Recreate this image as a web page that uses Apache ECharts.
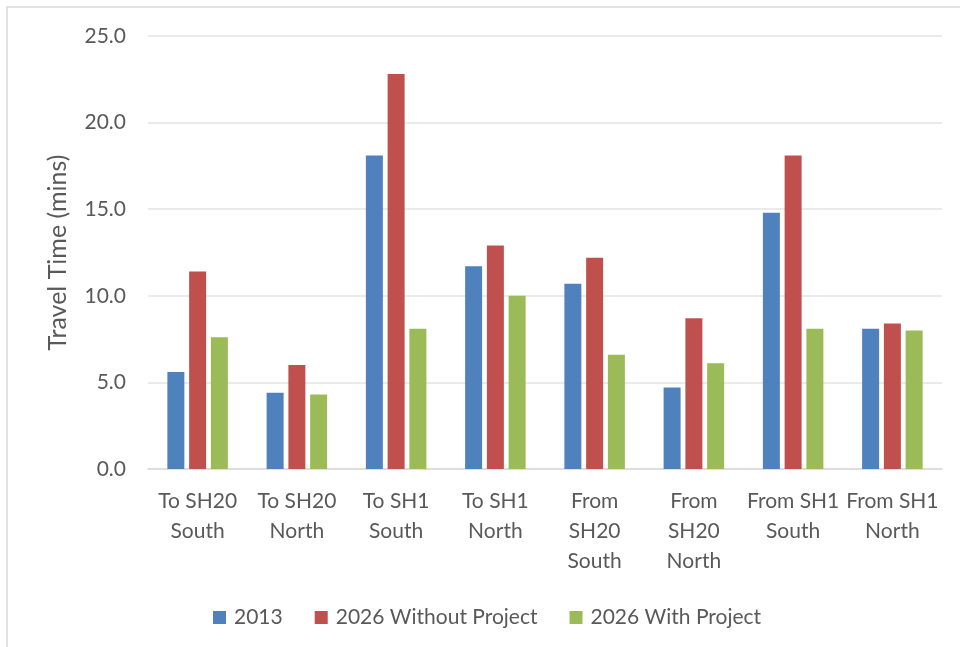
<!DOCTYPE html>
<html>
<head>
<meta charset="utf-8">
<script src="https://cdn.jsdelivr.net/npm/echarts@6/dist/echarts.min.js"></script>
<style>
  html, body { margin: 0; padding: 0; background: #fff; }
  #chart { width: 960px; height: 647px; }
</style>
</head>
<body>
<div id="chart"></div>
<script>
// Route categories (line breaks as shown under the axis)
const categories = [
  'To SH20\nSouth', 'To SH20\nNorth', 'To SH1\nSouth', 'To SH1\nNorth',
  'From\nSH20\nSouth', 'From\nSH20\nNorth', 'From SH1\nSouth', 'From SH1\nNorth'
];

// Travel times in minutes
const values2013 = [5.6, 4.4, 18.1, 11.7, 10.7, 4.7, 14.8, 8.1];
const values2026Without = [11.4, 6.0, 22.8, 12.9, 12.2, 8.7, 18.1, 8.4];
const values2026With = [7.6, 4.3, 8.1, 10.0, 6.6, 6.1, 8.1, 8.0];

const seriesNames = ['2013', '2026 Without Project', '2026 With Project'];
const yTicks = { min: 0, max: 25, interval: 5 };

const FONT = 'Lato, "Open Sans", sans-serif';
const TEXT = '#595959';

const chart = echarts.init(document.getElementById('chart'), null, { renderer: 'canvas' });

const barStyle = (color) => ({
  type: 'bar',
  barWidth: 17,
  barGap: '28%',
  itemStyle: { color: color }
});

chart.setOption({
  animation: false,
  textStyle: { fontFamily: FONT },
  graphic: [{
    type: 'rect',
    shape: { x: 7, y: 7, width: 1000, height: 700 },
    style: { fill: 'none', stroke: '#d9d9d9', lineWidth: 1.5 },
    silent: true
  }],
  legend: {
    data: seriesNames,
    left: 208,
    top: 602,
    itemWidth: 13,
    itemHeight: 13,
    itemGap: 32,
    icon: 'rect',
    textStyle: {
      fontFamily: FONT, fontSize: 21, color: TEXT,
      padding: [0, 0, 0, 3]
    }
  },
  grid: { left: 148, right: 18, top: 36, bottom: 178 },
  xAxis: {
    type: 'category',
    data: categories,
    axisLine: { show: true, lineStyle: { color: '#d9d9d9', width: 1.5 } },
    axisTick: { show: false },
    axisLabel: {
      interval: 0,
      margin: 17,
      fontFamily: FONT,
      fontSize: 21,
      lineHeight: 30,
      color: TEXT
    }
  },
  yAxis: {
    type: 'value',
    min: yTicks.min,
    max: yTicks.max,
    interval: yTicks.interval,
    name: 'Travel Time (mins)',
    nameLocation: 'middle',
    nameGap: 78,
    nameTextStyle: { fontFamily: FONT, fontSize: 25, color: TEXT },
    axisLine: { show: false },
    axisTick: { show: false },
    axisLabel: {
      margin: 22,
      fontFamily: FONT,
      fontSize: 21,
      color: TEXT,
      formatter: (v) => v.toFixed(1)
    },
    splitLine: { lineStyle: { color: '#e3e3e3', width: 1.5 } }
  },
  series: [
    Object.assign(barStyle('#4F81BD'), { name: seriesNames[0], data: values2013 }),
    Object.assign(barStyle('#C0504D'), { name: seriesNames[1], data: values2026Without }),
    Object.assign(barStyle('#9BBB59'), { name: seriesNames[2], data: values2026With })
  ]
});
</script>
</body>
</html>
